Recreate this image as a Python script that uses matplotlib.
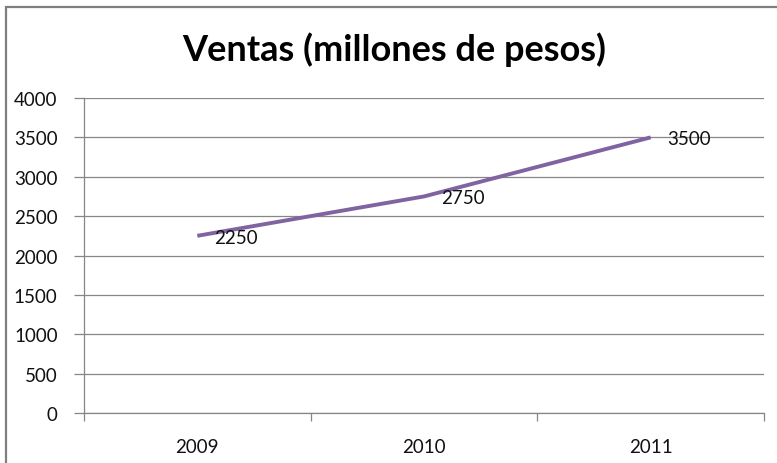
import matplotlib.pyplot as plt
from matplotlib.patches import Rectangle

# datos del grafico
years = ['2009', '2010', '2011']
ventas = [2250, 2750, 3500]
yticks = [0, 500, 1000, 1500, 2000, 2500, 3000, 3500, 4000]

purple = '#8064A2'
gray = '#868686'

plt.rcParams['font.family'] = ['Lato', 'DejaVu Sans']

fig = plt.figure(figsize=(7.77, 4.64), dpi=100)

# marco exterior (se corta por la derecha y abajo, como en la imagen)
fig.patches.append(Rectangle((6 / 777, -0.05), 1.05, 0.05 + 1 - 8 / 464,
                             transform=fig.transFigure, fill=False,
                             edgecolor='#7f7f7f', linewidth=1.6))

ax = fig.add_axes([84 / 777, 1 - 414 / 464, (764 - 84) / 777, (414 - 99) / 464])

x = list(range(len(years)))
ax.plot(x, ventas, color=purple, linewidth=2.8, solid_joinstyle='round',
        solid_capstyle='butt')

for xi, v in zip(x, ventas):
    ax.annotate(str(v), (xi, v), xytext=(12, -1), textcoords='offset points',
                ha='left', va='center', fontsize=13.5, color='#111111')

ax.set_xlim(-0.5, 2.5)
ax.set_ylim(0, 4000)
ax.set_yticks(yticks)
ax.set_yticklabels([str(t) for t in yticks])
ax.grid(axis='y', color=gray, linewidth=0.9)
ax.set_axisbelow(True)

# marcas entre categorias, etiquetas en el centro
ax.set_xticks([-0.5, 0.5, 1.5, 2.5])
ax.set_xticklabels([])
ax.set_xticks(x, minor=True)
ax.set_xticklabels(years, minor=True)
ax.tick_params(axis='x', which='major', length=6, color=gray, width=0.9)
ax.tick_params(axis='x', which='minor', length=0, pad=18, labelsize=13.5,
               labelcolor='#111111')
ax.tick_params(axis='y', length=7, color=gray, width=0.9, pad=12,
               labelsize=13.5, labelcolor='#111111')

for s in ['top', 'right']:
    ax.spines[s].set_visible(False)
for s in ['left', 'bottom']:
    ax.spines[s].set_color(gray)
    ax.spines[s].set_linewidth(0.9)

fig.text(394 / 777, 1 - 50 / 464, 'Ventas (millones de pesos)', ha='center',
         va='center', fontsize=26, fontweight='bold', color='black')

fig.savefig('out.png', dpi=100)
